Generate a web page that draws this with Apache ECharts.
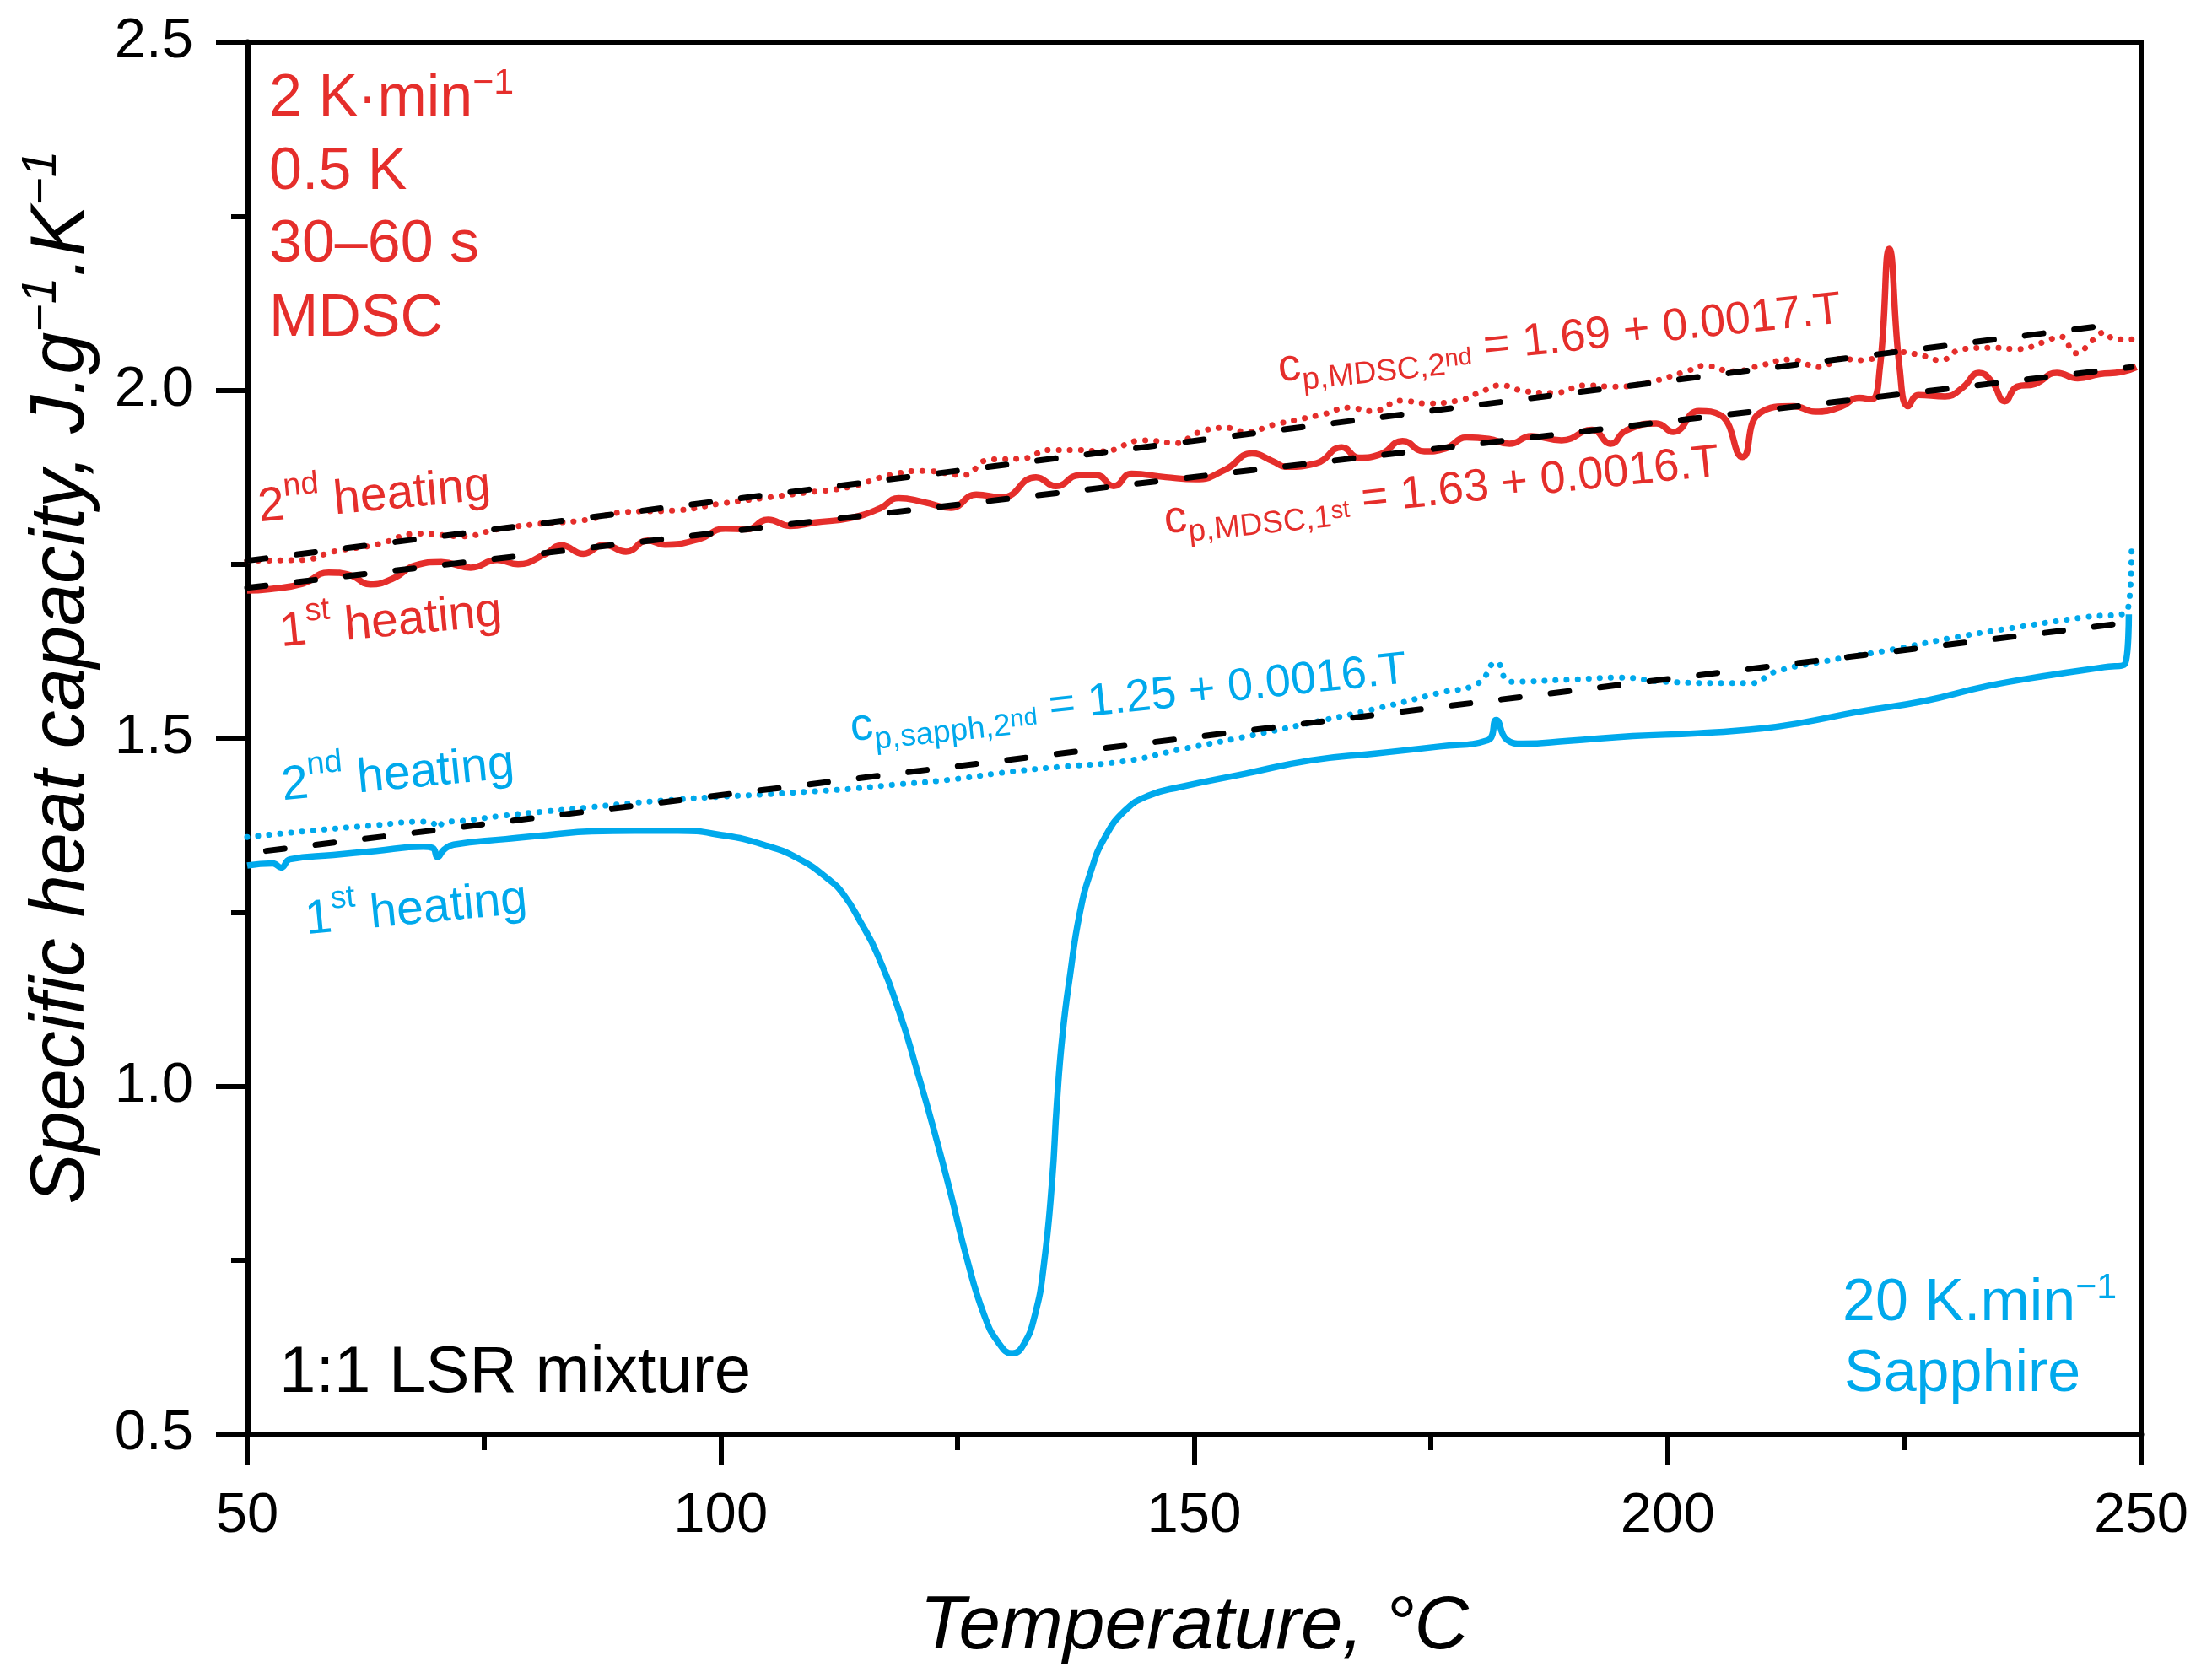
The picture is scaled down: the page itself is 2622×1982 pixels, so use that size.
<!DOCTYPE html>
<html>
<head>
<meta charset="utf-8">
<title>Specific heat capacity - 1:1 LSR mixture</title>
<script src="https://cdn.jsdelivr.net/npm/echarts@6/dist/echarts.min.js"></script>
<style>
  html, body { margin: 0; padding: 0; background: #fff; }
  #chart { width: 2622px; height: 1982px; }
</style>
</head>
<body>
<div id="chart"></div>
<script>
// values: temperature in °C, cp in J/g/K

// MDSC, 1st heating (solid red)
var mdsc1T  = [50, 52.3, 55.9, 58.6, 60.9, 63, 65.5, 67.7, 70.5, 73.6, 76.4, 78.6, 81.4, 83.2, 85.5, 87.7, 90, 92.3, 94.1, 97.7,
               100.5, 102.7, 105, 107.3, 110, 113.6, 116.8, 118.8, 121.5, 124.3, 127, 129.7, 133.3, 135.4, 137.9, 139.7, 141.5, 143.4, 147, 150.2,
               153.3, 156.1, 158.3, 159.7, 162.9, 165.6, 167.4, 169.7, 172, 174.3, 176.5, 178.8, 181.1, 183.3, 185.6, 188.8, 192, 194, 195.6, 198.8,
               200.6, 203.3, 205.6, 207.9, 209.7, 213.3, 215.6, 218.3, 220.2, 221.5, 222.4, 223.4, 224.5, 225.4, 226.5, 229.3, 231.1, 232.9, 234.3, 235.6,
               236.9, 238.8, 241.1, 243.3, 245.6, 247.9, 249.5];
var mdsc1Cp = [1.712, 1.714, 1.722, 1.738, 1.734, 1.721, 1.730, 1.748, 1.753, 1.745, 1.756, 1.750, 1.764, 1.777, 1.765, 1.778, 1.768, 1.784, 1.778, 1.786,
               1.801, 1.800, 1.814, 1.805, 1.810, 1.816, 1.830, 1.845, 1.839, 1.831, 1.850, 1.846, 1.875, 1.862, 1.878, 1.878, 1.862, 1.880, 1.875, 1.872,
               1.886, 1.909, 1.898, 1.890, 1.895, 1.918, 1.903, 1.908, 1.927, 1.912, 1.916, 1.932, 1.930, 1.923, 1.934, 1.928, 1.943, 1.923, 1.942, 1.952,
               1.940, 1.970, 1.964, 1.904, 1.967, 1.977, 1.969, 1.976, 1.989, 1.987, 2.031, 2.203, 2.031, 1.977, 1.993, 1.991, 2.003, 2.025, 2.011, 1.984,
               2.005, 2.009, 2.025, 2.017, 2.023, 2.026, 2.033];

// MDSC, 2nd heating (dotted red)
var mdsc2T  = [50, 55.9, 59.1, 63.6, 68.2, 72.7, 76.4, 80.9, 85.5, 90, 95, 100, 104.5, 109.1, 113.6, 117.9, 121.5, 125.6, 128.3, 132,
               134.7, 137.9, 140.2, 144.7, 148.3, 150.2, 153.3, 155.6, 158.3, 161.1, 163.8, 166.3, 168.8, 172, 174.3, 177.9, 180.2, 182.4, 184.7, 187.9,
               191.5, 194.2, 197.9, 202.4, 203.8, 207, 209.7, 212.9, 216.1, 218.3, 220.6, 223.8, 226.5, 228.8, 231.1, 234.3, 237, 239.7, 241.5, 243.1,
               245, 246.1, 247.2, 249];
var mdsc2Cp = [1.755, 1.756, 1.768, 1.778, 1.794, 1.790, 1.800, 1.808, 1.813, 1.825, 1.827, 1.837, 1.845, 1.853, 1.861, 1.878, 1.884, 1.878, 1.900, 1.902,
               1.914, 1.914, 1.912, 1.928, 1.924, 1.938, 1.946, 1.940, 1.950, 1.958, 1.966, 1.975, 1.970, 1.985, 1.981, 1.985, 1.997, 2.007, 1.999, 1.996,
               2.007, 2.005, 2.011, 2.029, 2.035, 2.027, 2.035, 2.044, 2.033, 2.045, 2.043, 2.055, 2.051, 2.043, 2.059, 2.061, 2.059, 2.069, 2.077, 2.053,
               2.073, 2.083, 2.073, 2.073];

// sapphire method, 1st heating (solid blue)
var sapph1T  = [50, 52.7, 53.6, 54.5, 59.1, 63.6, 68.6, 69.6, 70.1, 70.8, 71.8, 77.3, 81.8, 86.4, 90.9, 95.5, 100, 104.5, 108.2, 111.4,
                113, 114.8, 116.5, 118.9, 120.7, 122.5, 124.3, 126, 127.8, 129.3, 130.8, 132, 133.2, 134.1, 135, 135.5, 136.1, 136.9, 137.9, 139.1,
                140.6, 142.7, 145.1, 148.6, 155.4, 162.3, 169.1, 175.9, 181, 181.9, 183, 184.7, 189.5, 196.3, 203.2, 210, 214.1, 220.2, 227, 233.8,
                240.6, 246.1, 248.3, 248.7];
var sapph1Cp = [1.317, 1.320, 1.314, 1.326, 1.332, 1.338, 1.344, 1.342, 1.329, 1.340, 1.347, 1.355, 1.361, 1.366, 1.367, 1.367, 1.361, 1.347, 1.327, 1.297,
                1.275, 1.235, 1.191, 1.105, 1.024, 0.938, 0.845, 0.752, 0.672, 0.632, 0.616, 0.629, 0.672, 0.740, 0.864, 0.975, 1.074, 1.160, 1.247, 1.309,
                1.358, 1.396, 1.417, 1.430, 1.449, 1.468, 1.478, 1.488, 1.497, 1.526, 1.498, 1.492, 1.496, 1.503, 1.507, 1.514, 1.522, 1.538, 1.553, 1.575,
                1.591, 1.602, 1.607, 1.678];

// sapphire method, 2nd heating (dotted blue)
var sapph2T  = [50, 56.8, 63.6, 68.6, 69.6, 70.1, 70.8, 72.7, 77.3, 81.8, 86.4, 90.9, 95.5, 100, 104.5, 109.1, 113.6, 118.2, 124, 130.8,
                136, 142.7, 148.6, 155.4, 162.3, 169.1, 175.9, 180, 181.9, 183.4, 189.5, 195, 199.7, 206.6, 208.9, 211.3, 216.8, 223.6, 230.4, 237.2,
                244.1, 248.5, 249];
var sapph2Cp = [1.358, 1.367, 1.375, 1.380, 1.378, 1.371, 1.379, 1.381, 1.389, 1.395, 1.401, 1.407, 1.412, 1.416, 1.419, 1.423, 1.427, 1.433, 1.440, 1.452,
                1.459, 1.467, 1.484, 1.502, 1.522, 1.542, 1.565, 1.579, 1.609, 1.581, 1.584, 1.587, 1.581, 1.579, 1.579, 1.595, 1.611, 1.627, 1.645, 1.660,
                1.674, 1.682, 1.781];

// linear fits (dashed black), end points
var fitMdsc2T  = [50, 248];
var fitMdsc2Cp = [1.755, 2.096];
var fitMdsc1T  = [50, 249];
var fitMdsc1Cp = [1.716, 2.033];
var fitSapphT  = [52, 248];
var fitSapphCp = [1.338, 1.665];

var xTicks = [50, 250, 50];      // min, max, step
var yTicks = [0.5, 2.5, 0.5];

var RED = '#e52e2b';
var BLUE = '#00a9ec';
var FONT = '"Liberation Sans", Arial, sans-serif';

function pairs(xs, ys) {
    return xs.map(function (x, i) { return [x, ys[i]]; });
}

function curve(data, color, dotted) {
    return {
        type: 'line',
        data: data,
        showSymbol: false,
        smooth: 0.5,
        lineStyle: dotted
            ? { color: color, width: 7, type: [0.1, 13], cap: 'round' }
            : { color: color, width: 7.5, join: 'round' },
        z: 2
    };
}

function fitLine(data) {
    return {
        type: 'line',
        data: data,
        showSymbol: false,
        lineStyle: { color: '#000', width: 7, type: [22, 37], cap: 'round' },
        z: 5
    };
}

// rotated / superscripted annotations
var ROT_LBL = 5.5 * Math.PI / 180;
var ROT_EQ = 6 * Math.PI / 180;

function txt(x, baseline, text, size, color, rot, rich) {
    return {
        type: 'text',
        x: x,
        y: baseline - 0.36 * size,
        rotation: rot || 0,
        z: 100,
        style: {
            text: text,
            fontSize: size,
            fontFamily: FONT,
            fill: color,
            align: 'left',
            verticalAlign: 'middle',
            rich: rich || {}
        }
    };
}

function richFor(color) {
    return {
        sup: { fontSize: 43, fontFamily: FONT, color: color, padding: [0, 0, 37, 0] },
        hsup: { fontSize: 38, fontFamily: FONT, color: color, padding: [0, 0, 44, 0] },
        sub: { fontSize: 37, fontFamily: FONT, color: color, padding: [34, 0, 0, 0] },
        ssup: { fontSize: 29, fontFamily: FONT, color: color, padding: [20, 0, 0, 0] }
    };
}

var chart = echarts.init(document.getElementById('chart'), null, { renderer: 'canvas' });

var option = {
    animation: false,
    backgroundColor: '#fff',
    textStyle: { fontFamily: FONT },
    grid: {
        left: 293, right: 84, top: 50, bottom: 282,
        show: true, borderColor: '#000', borderWidth: 6, backgroundColor: 'transparent'
    },
    xAxis: {
        type: 'value',
        min: xTicks[0], max: xTicks[1], interval: xTicks[2],
        axisLine: { show: true, onZero: false, lineStyle: { color: '#000', width: 7 } },
        axisTick: { show: true, length: 37, lineStyle: { color: '#000', width: 6 } },
        minorTick: { show: true, splitNumber: 2, length: 19, lineStyle: { color: '#000', width: 6 } },
        splitLine: { show: false },
        axisLabel: { fontSize: 67, color: '#000', margin: 64, fontFamily: FONT },
        name: 'Temperature, °C',
        nameLocation: 'middle',
        nameGap: 185,
        nameTextStyle: { fontSize: 89, fontStyle: 'italic', color: '#000', fontFamily: FONT }
    },
    yAxis: {
        type: 'value',
        min: yTicks[0], max: yTicks[1], interval: yTicks[2],
        axisLine: { show: true, lineStyle: { color: '#000', width: 7 } },
        axisTick: { show: true, length: 37, lineStyle: { color: '#000', width: 6 } },
        minorTick: { show: true, splitNumber: 2, length: 19, lineStyle: { color: '#000', width: 6 } },
        splitLine: { show: false },
        axisLabel: {
            fontSize: 67, color: '#000', margin: 64, fontFamily: FONT,
            formatter: function (v) { return v.toFixed(1); }
        },
        name: 'Specific heat capacity, J.g{s|−1}.K{s|−1}',
        nameLocation: 'middle',
        nameGap: 168,
        nameTextStyle: {
            fontSize: 90, fontStyle: 'italic', color: '#000', fontFamily: FONT,
            padding: [0, 0, 0, 144],
            rich: {
                s: { fontSize: 57, fontStyle: 'italic', fontFamily: FONT, color: '#000', padding: [0, 0, 46, 0] }
            }
        }
    },
    graphic: [
        txt(319, 143, '2 K·min{sup|−1}', 70, RED, 0, richFor(RED)),
        txt(319, 230, '0.5 K', 70, RED),
        txt(319, 316, '30–60 s', 70, RED),
        txt(319, 404, 'MDSC', 70, RED),
        txt(331, 1657, '1:1 LSR mixture', 78, '#000'),
        txt(2184, 1571, '20 K.min{sup|−1}', 70, BLUE, 0, richFor(BLUE)),
        txt(2186, 1655, 'Sapphire', 70, BLUE),
        txt(306, 623, '2{hsup|nd} heating', 57, RED, ROT_LBL, richFor(RED)),
        txt(332, 771, '1{hsup|st} heating', 57, RED, ROT_LBL, richFor(RED)),
        txt(334, 953, '2{hsup|nd} heating', 57, BLUE, ROT_LBL, richFor(BLUE)),
        txt(362, 1112, '1{hsup|st} heating', 57, BLUE, ROT_LBL, richFor(BLUE)),
        txt(1515, 457, 'c{sub|p,MDSC,2}{ssup|nd} = 1.69 + 0.0017.T', 54, RED, ROT_EQ, richFor(RED)),
        txt(1380, 637, 'c{sub|p,MDSC,1}{ssup|st} = 1.63 + 0.0016.T', 54, RED, ROT_EQ, richFor(RED)),
        txt(1008, 883, 'c{sub|p,sapph,2}{ssup|nd} = 1.25 + 0.0016.T', 54, BLUE, ROT_EQ, richFor(BLUE))
    ],
    series: [
        curve(pairs(sapph1T, sapph1Cp), BLUE, false),
        curve(pairs(sapph2T, sapph2Cp), BLUE, true),
        curve(pairs(mdsc1T, mdsc1Cp), RED, false),
        curve(pairs(mdsc2T, mdsc2Cp), RED, true),
        fitLine(pairs(fitMdsc2T, fitMdsc2Cp)),
        fitLine(pairs(fitMdsc1T, fitMdsc1Cp)),
        fitLine(pairs(fitSapphT, fitSapphCp))
    ]
};

chart.setOption(option);
</script>
</body>
</html>
